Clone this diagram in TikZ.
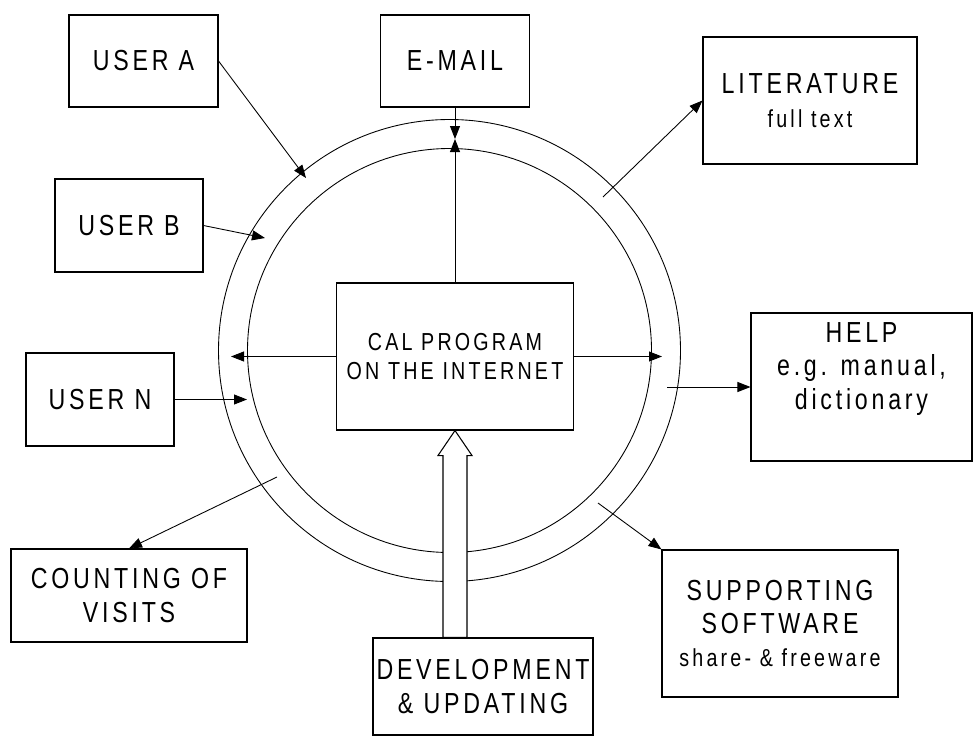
\documentclass[tikz,border=0pt]{standalone}
\usepackage{fontspec}
\setmainfont{Liberation Sans}[FakeStretch=0.8,LetterSpace=13]
\usetikzlibrary{arrows.meta}

\tikzset{
  box/.style={draw, line width=0.6pt, align=center, inner sep=2pt,
    font=\fontsize{16.5}{19}\selectfont},
  ring/.style={line width=0.5pt},
  link/.style={line width=0.5pt, -{Triangle[length=0.26cm,width=0.2cm]}},
  hollow/.style={line width=0.6pt, fill=white},
}
\newcommand{\minortext}[1]{{\fontsize{14}{17}\selectfont #1}}

\begin{document}
\begin{tikzpicture}
\useasboundingbox (0,0) rectangle (19.54,-14.72);
\coordinate (O) at (8.99,-7.01);

% the two rings round the program
\draw[ring] (O) circle (4.04);
\draw[ring] (O) circle (4.62);

% boxes
\node[box, minimum width=2.98cm, minimum height=1.84cm] (userA) at (2.87,-1.22) {USER A};
\node[box, minimum width=2.96cm, minimum height=1.86cm] (userB) at (2.58,-4.51) {USER B};
\node[box, minimum width=2.96cm, minimum height=1.86cm] (userN) at (2.00,-7.99) {USER N};
\node[box, minimum width=2.98cm, minimum height=1.84cm] (email) at (9.10,-1.22) {E-MAIL};
\node[box, minimum width=4.28cm, minimum height=2.54cm] (lit) at (16.20,-2.01)
  {LITERATURE\\\minortext{full text}};
\node[box, minimum width=4.74cm, minimum height=2.94cm, font=\fontsize{14}{17}\selectfont]
  (cal) at (9.10,-7.13) {CAL PROGRAM\\ON THE INTERNET};
\node[box, minimum width=4.42cm, minimum height=2.96cm, text depth=0.84cm] (help) at (17.23,-7.74)
  {HELP\\e.g. manual,\\dictionary};
\node[box, minimum width=4.72cm, minimum height=2.94cm] (supp) at (15.60,-12.47)
  {SUPPORTING\\SOFTWARE\\\minortext{share- \& freeware}};
\node[box, minimum width=4.72cm, minimum height=1.86cm] (count) at (2.58,-11.91)
  {COUNTING OF\\VISITS};
\node[box, minimum width=3.60cm, minimum height=1.94cm] (dev) at (9.66,-13.73)
  {DEVELOPMENT\\\& UPDATING};

% points on the ring
\coordinate (top) at (9.10,-2.78);
\coordinate (inA) at (6.12,-3.56);
\coordinate (inB) at (5.30,-4.76);
\coordinate (inN) at (4.94,-7.99);
\coordinate (outL) at (4.62,-7.13);
\coordinate (outR) at (13.24,-7.13);
\coordinate (outLit) at (12.06,-3.94);
\coordinate (outHelp) at (13.34,-7.74);
\coordinate (outSupp) at (11.96,-10.06);
\coordinate (outCount) at (5.54,-9.54);

% users into the ring
\draw[link] (userA.east) -- (inA);
\draw[link] (userB.east) -- (inB);
\draw[link] (userN.east) -- (inN);

% program out to the ring
\draw[link] (cal.west) -- (outL);
\draw[link] (cal.east) -- (outR);
\draw[link] (cal.north) -- (top);
\draw[link] (email.south) -- (top);

% ring out to the services
\draw[link] (outLit) -- (lit.west);
\draw[link] (outHelp) -- (help.west);
\draw[link] (outSupp) -- (supp.north west);
\draw[link] (outCount) -- (count.north);

% development feeds the program
\coordinate (devtop) at (dev.north -| cal.south);
\draw[hollow] (cal.south) -- ++(0.34,-0.5) -- ++(-0.10,0)
  -- ([xshift=0.24cm]devtop) -- ([xshift=-0.24cm]devtop)
  -- ([xshift=-0.24cm,yshift=-0.5cm]cal.south) -- ++(-0.10,0) -- cycle;
\end{tikzpicture}
\end{document}
